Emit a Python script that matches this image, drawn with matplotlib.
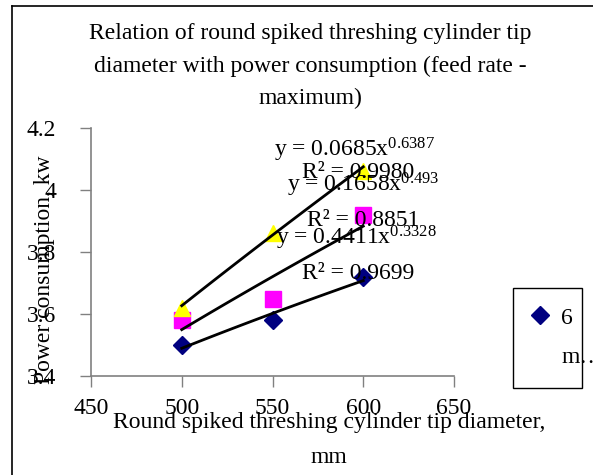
import numpy as np
import matplotlib
matplotlib.use('Agg')
import matplotlib.pyplot as plt
from matplotlib.lines import Line2D
from matplotlib.patches import Rectangle

# Fonte tipo Times
plt.rcParams['font.family'] = ['Liberation Serif', 'DejaVu Serif']
plt.rcParams['mathtext.fontset'] = 'custom'
plt.rcParams['mathtext.rm'] = 'Liberation Serif'
plt.rcParams['mathtext.it'] = 'Liberation Serif'

# Dados
diametro = [500, 550, 600]
serie_6m = [3.50, 3.58, 3.72]
serie_b = [3.58, 3.65, 3.92]
serie_c = [3.62, 3.86, 4.06]

# Linhas de tendencia (potencia) y = a * x^b, coeficientes do grafico
tend_a = [0.4411, 0.1658, 0.0685]
tend_b = [0.3328, 0.493, 0.6387]
tend_r2 = ['0.9699', '0.8851', '0.9980']

xticks = [450, 500, 550, 600, 650]
yticks = [3.4, 3.6, 3.8, 4.0, 4.2]
ytick_labels = ['3.4', '3.6', '3.8', '4', '4.2']

W, H = 593, 475
fig = plt.figure(figsize=(W / 100, H / 100), dpi=100)
ax = fig.add_axes([91 / W, 1 - 376 / H, (454 - 91) / W, (376 - 128) / H])

fs = 17

# Pontos
ax.plot(diametro, serie_6m, linestyle='none', marker='D', markersize=9,
        color='#000080', zorder=3)
ax.plot(diametro, serie_b, linestyle='none', marker='s', markersize=11,
        color='#FF00FF', zorder=3)
ax.plot(diametro, serie_c, linestyle='none', marker='^', markersize=12,
        color='#FFFF00', zorder=3)

# Tendencias
xx = np.linspace(500, 600, 50)
for a, b in zip(tend_a, tend_b):
    ax.plot(xx, a * xx ** b, color='black', linewidth=2, zorder=4)

# Equacoes (posicao em coordenadas de dados)
eq_pos = [(596, 3.845), (600, 4.016), (595, 4.129)]
r2_pos = [(597, 3.732), (600, 3.903), (597, 4.055)]
for a, b, r2, (ex, ey), (rx, ry) in zip(tend_a, tend_b, tend_r2, eq_pos, r2_pos):
    ax.text(ex, ey, f'y = {a}x$^{{{b}}}$', fontsize=fs, ha='center', va='center', zorder=5)
    ax.text(rx, ry, f'R² = {r2}', fontsize=fs, ha='center', va='center', zorder=5)

ax.set_xlim(450, 650)
ax.set_ylim(3.4, 4.2)
ax.set_xticks(xticks)
ax.set_yticks(yticks)
ax.set_yticklabels(ytick_labels)
ax.tick_params(direction='out', length=8, width=1, labelsize=fs, color='#808080')
ax.tick_params(axis='y', pad=17)
ax.tick_params(axis='x', pad=8)
for s in ['top', 'right']:
    ax.spines[s].set_visible(False)
for s in ['left', 'bottom']:
    ax.spines[s].set_color('#808080')
    ax.spines[s].set_linewidth(1.2)

# Titulo e rotulos
fig.text(310 / W, 1 - 66 / H,
         'Relation of round spiked threshing cylinder tip\n'
         'diameter with power consumption (feed rate -\nmaximum)',
         ha='center', va='center', fontsize=fs, linespacing=1.7)
fig.text(329 / W, 1 - 440 / H, 'Round spiked threshing cylinder tip diameter,\nmm',
         ha='center', va='center', fontsize=fs, linespacing=1.85)
fig.text(45 / W, 1 - 270 / H, 'Power consumption, kw', rotation=90,
         ha='center', va='center', fontsize=fs)

# Legenda
fig.add_artist(Rectangle((513 / W, 1 - 388 / H), 69 / W, 100 / H,
                         transform=fig.transFigure, fill=False,
                         edgecolor='black', linewidth=1))
h1 = Line2D([], [], linestyle='none', marker='D', markersize=9, color='#000080')
h2 = Line2D([], [], linestyle='none')
fig.legend([h1, h2], ['6', 'm…'], loc='upper left',
           bbox_to_anchor=(528 / W, 1 - 307 / H), frameon=False, fontsize=fs,
           handlelength=1.0, handletextpad=0.4, labelspacing=0.75,
           borderpad=0, borderaxespad=0)

# Moldura externa
fig.add_artist(Line2D([12 / W, 1], [1 - 6 / H, 1 - 6 / H], color='black', linewidth=1.2))
fig.add_artist(Line2D([12 / W, 12 / W], [0, 1 - 6 / H], color='black', linewidth=1.2))

fig.savefig('out.png', dpi=100)
